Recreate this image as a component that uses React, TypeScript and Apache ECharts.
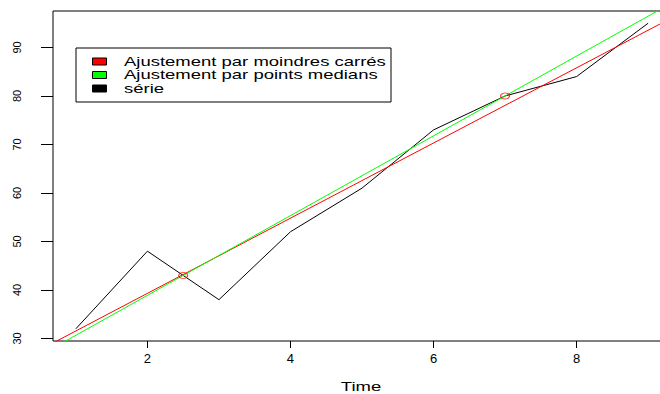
import React, { useEffect, useRef } from "react";
import * as echarts from "echarts";

// Data
const time = [1, 2, 3, 4, 5, 6, 7, 8, 9];
const serie = [32, 48, 38, 52, 61, 73, 80, 84, 95];
const groupSplit = 4; // first group: first 4 points, second group: remaining 5
const xTicks = [2, 4, 6, 8];
const yTicks = [30, 40, 50, 60, 70, 80, 90];
const legendLabels = [
  "Ajustement par moindres carrés",
  "Ajustement par points medians",
  "série",
];
const legendColors = ["#ff0000", "#00ff00", "#000000"];
const xTitle = "Time";

function median(a: number[]): number {
  const s = [...a].sort((p, q) => p - q);
  const m = Math.floor(s.length / 2);
  return s.length % 2 ? s[m] : (s[m - 1] + s[m]) / 2;
}

export default function App() {
  const ref = useRef<HTMLDivElement>(null);

  useEffect(() => {
    document.body.style.margin = "0";
    const chart = echarts.init(ref.current!, null, { renderer: "svg" });

    const n = time.length;
    const xmin0 = Math.min(...time);
    const xmax0 = Math.max(...time);
    const ymin0 = Math.min(...serie);
    const ymax0 = Math.max(...serie);
    const xMin = xmin0 - 0.04 * (xmax0 - xmin0);
    const xMax = xmax0 + 0.04 * (xmax0 - xmin0);
    const yMin = ymin0 - 0.04 * (ymax0 - ymin0);
    const yMax = ymax0 + 0.04 * (ymax0 - ymin0);

    // least squares
    const mx = time.reduce((s, v) => s + v, 0) / n;
    const my = serie.reduce((s, v) => s + v, 0) / n;
    let sxy = 0;
    let sxx = 0;
    for (let i = 0; i < n; i++) {
      sxy += (time[i] - mx) * (serie[i] - my);
      sxx += (time[i] - mx) * (time[i] - mx);
    }
    const bLs = sxy / sxx;
    const aLs = my - bLs * mx;

    // median points
    const p1: [number, number] = [
      median(time.slice(0, groupSplit)),
      median(serie.slice(0, groupSplit)),
    ];
    const p2: [number, number] = [
      median(time.slice(groupSplit)),
      median(serie.slice(groupSplit)),
    ];
    const bMed = (p2[1] - p1[1]) / (p2[0] - p1[0]);
    const aMed = p1[1] - bMed * p1[0];

    const font = "'Liberation Sans', Arial, sans-serif";
    const sx = 1.48;
    const legendRowsY = [61.5, 75, 88.5];

    const graphic: any[] = [
      {
        type: "rect",
        shape: { x: 76, y: 48, width: 315, height: 54 },
        style: { fill: "#fff", stroke: "#000", lineWidth: 1 },
        z: 10,
      },
      {
        type: "text",
        x: 361,
        y: 386.5,
        scaleX: sx,
        style: {
          text: xTitle,
          x: 0,
          y: 0,
          fontSize: 12.5,
          fontFamily: font,
          fill: "#000",
          align: "center",
          verticalAlign: "middle",
        },
      },
    ];
    legendLabels.forEach((lab, i) => {
      graphic.push({
        type: "rect",
        shape: { x: 92.5, y: legendRowsY[i] - 3.5, width: 14, height: 7 },
        style: { fill: legendColors[i], stroke: "#000", lineWidth: 1 },
        z: 11,
      });
      graphic.push({
        type: "text",
        x: 124,
        y: legendRowsY[i],
        scaleX: sx,
        z: 11,
        style: {
          text: lab,
          x: 0,
          y: 0,
          fontSize: 12.5,
          fontFamily: font,
          fill: "#000",
          align: "left",
          verticalAlign: "middle",
        },
      });
    });

    chart.setOption({
      animation: false,
      grid: {
        left: 53,
        top: 11,
        width: 618,
        height: 330,
        outerBoundsMode: "none",
        containLabel: false,
        show: true,
        borderColor: "#000",
        borderWidth: 1,
        backgroundColor: "transparent",
      },
      xAxis: {
        type: "value",
        min: xMin,
        max: xMax,
        splitLine: { show: false },
        axisLine: { show: false },
        axisTick: {
          show: true,
          inside: false,
          length: 7,
          customValues: xTicks,
          lineStyle: { color: "#000" },
        },
        axisLabel: {
          show: true,
          customValues: xTicks,
          margin: 11,
          fontSize: 13,
          fontFamily: font,
          color: "#000",
          formatter: (v: number) => String(v),
        },
      },
      yAxis: {
        type: "value",
        min: yMin,
        max: yMax,
        splitLine: { show: false },
        axisLine: { show: false },
        axisTick: {
          show: true,
          inside: false,
          length: 12,
          customValues: yTicks,
          lineStyle: { color: "#000" },
        },
        axisLabel: {
          show: true,
          customValues: yTicks,
          rotate: 90,
          margin: 31,
          fontSize: 11,
          fontFamily: font,
          color: "#000",
          formatter: (v: number) => String(v),
        },
      },
      graphic,
      series: [
        {
          name: legendLabels[2],
          type: "line",
          data: time.map((t, i) => [t, serie[i]]),
          symbol: "none",
          lineStyle: { color: "#000", width: 1 },
          z: 2,
        },
        {
          name: legendLabels[0],
          type: "line",
          data: [
            [xMin, aLs + bLs * xMin],
            [xMax, aLs + bLs * xMax],
          ],
          symbol: "none",
          clip: true,
          lineStyle: { color: "#ff0000", width: 1 },
          z: 3,
        },
        {
          name: legendLabels[1],
          type: "line",
          data: [
            [xMin, aMed + bMed * xMin],
            [xMax, aMed + bMed * xMax],
          ],
          symbol: "none",
          clip: true,
          lineStyle: { color: "#00ff00", width: 1 },
          z: 4,
        },
        {
          name: "points medians",
          type: "scatter",
          data: [p1, p2],
          symbol: "circle",
          symbolSize: [9, 6],
          itemStyle: {
            color: "transparent",
            borderColor: "#ff0000",
            borderWidth: 1,
          },
          z: 5,
        },
      ],
    });

    return () => {
      chart.dispose();
    };
  }, []);

  return <div ref={ref} style={{ width: 660, height: 394 }} />;
}
